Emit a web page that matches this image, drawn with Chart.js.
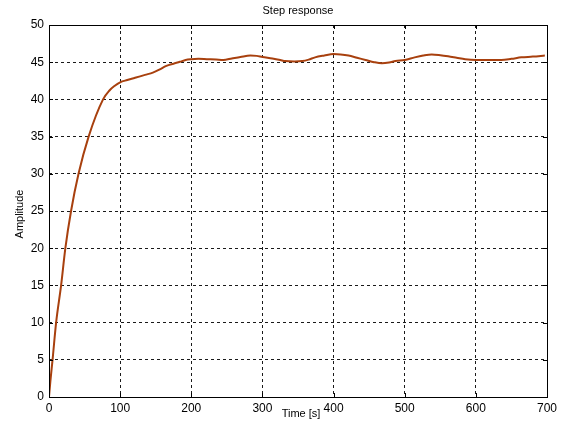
<!DOCTYPE html>
<html>
<head>
<meta charset="utf-8">
<script src="https://cdn.jsdelivr.net/npm/chart.js@4/dist/chart.umd.min.js"></script>
<style>
  html, body { margin: 0; padding: 0; background: #ffffff; }
  #wrap { width: 561px; height: 421px; position: relative; }
</style>
</head>
<body>
<div id="wrap"><canvas id="c" width="561" height="421"></canvas></div>
<script>
// Step response samples: time in seconds, amplitude in output units
const time = [0, 2, 5, 10, 17, 23, 31, 41.5, 55.7, 76, 85, 92, 100, 110, 121, 135, 146, 155,
  165, 175, 184, 192, 200, 210, 222, 235, 245, 257, 269, 283, 292, 300, 314, 325, 332, 345, 356,
  365, 374, 387, 400, 410, 421, 433, 445, 457, 468, 478, 487, 500, 514, 526, 538, 550, 561, 573,
  585, 600, 618, 636, 650, 664, 680, 697];
const amplitude = [0, 2.2, 5, 10, 15, 20, 25, 30, 35, 40, 41.2, 41.8, 42.3, 42.6, 42.9,
  43.3, 43.6, 44.0, 44.5, 44.8, 45.05, 45.3, 45.4, 45.45, 45.4, 45.35, 45.3, 45.5, 45.7, 45.9,
  45.85, 45.7, 45.5, 45.3, 45.15, 45.1, 45.15, 45.35, 45.65, 45.9, 46.1, 46.05, 45.9, 45.6, 45.3,
  45.0, 44.85, 44.95, 45.15, 45.3, 45.65, 45.9, 46.05, 45.95, 45.8, 45.6, 45.4, 45.3, 45.3, 45.3,
  45.45, 45.65, 45.75, 45.9];

// Axis tick values
const xTicks = [0, 100, 200, 300, 400, 500, 600, 700];
const yTicks = [0, 5, 10, 15, 20, 25, 30, 35, 40, 45, 50];

const titleText = 'Step response';
const xLabel = 'Time [s]';
const yLabel = 'Amplitude';

const points = time.map((t, i) => ({ x: t, y: amplitude[i] }));

const FONT = '"Liberation Sans", Arial, sans-serif';

// Solid frame, inward tick marks and text labels around the plot area
const framePlugin = {
  id: 'frame',
  afterDatasetsDraw(chart) {
    const { ctx, chartArea: a, scales: { x, y } } = chart;
    ctx.save();
    ctx.strokeStyle = '#000';
    ctx.lineWidth = 1;
    ctx.setLineDash([]);
    ctx.strokeRect(Math.round(a.left) + 0.5, Math.round(a.top) + 0.5,
      Math.round(a.right - a.left), Math.round(a.bottom - a.top));
    const tl = 4;
    ctx.beginPath();
    xTicks.forEach(v => {
      const px = Math.round(x.getPixelForValue(v)) + 0.5;
      ctx.moveTo(px, a.bottom); ctx.lineTo(px, a.bottom - tl);
      ctx.moveTo(px, a.top); ctx.lineTo(px, a.top + tl);
    });
    yTicks.forEach(v => {
      const py = Math.round(y.getPixelForValue(v)) + 0.5;
      ctx.moveTo(a.left, py); ctx.lineTo(a.left + tl, py);
      ctx.moveTo(a.right, py); ctx.lineTo(a.right - tl, py);
    });
    ctx.stroke();

    ctx.fillStyle = '#000';
    ctx.font = '11px ' + FONT;
    ctx.textAlign = 'center';
    ctx.textBaseline = 'middle';
    ctx.fillText(titleText, (a.left + a.right) / 2, 11);
    ctx.fillText(xLabel, 301, 414);
    ctx.translate(20, 214);
    ctx.rotate(-Math.PI / 2);
    ctx.fillText(yLabel, 0, 0);
    ctx.restore();
  }
};

const gridColor = (edgeMin, edgeMax) => (c) =>
  (c.tick && (c.tick.value === edgeMin || c.tick.value === edgeMax)) ? 'rgba(0,0,0,0)' : '#1a1a1a';

new Chart(document.getElementById('c'), {
  type: 'line',
  data: {
    datasets: [{
      data: points,
      borderColor: '#a8400e',
      borderWidth: 2,
      pointRadius: 0,
      fill: false,
      cubicInterpolationMode: 'monotone'
    }]
  },
  options: {
    responsive: false,
    animation: false,
    devicePixelRatio: 1,
    layout: { padding: { left: 0, top: 25, right: 13, bottom: 0 } },
    plugins: { legend: { display: false }, tooltip: { enabled: false }, title: { display: false } },
    scales: {
      x: {
        type: 'linear',
        min: 0, max: 700,
        afterBuildTicks: (s) => { s.ticks = xTicks.map(v => ({ value: v })); },
        afterFit: (s) => { s.height = 24; },
        grid: { color: gridColor(0, 700), lineWidth: 1, drawTicks: false },
        border: { display: false, dash: [3, 3] },
        ticks: { color: '#000', padding: 4, font: { family: FONT, size: 12 }, maxRotation: 0 }
      },
      y: {
        type: 'linear',
        min: 0, max: 50,
        afterBuildTicks: (s) => { s.ticks = yTicks.map(v => ({ value: v })); },
        afterFit: (s) => { s.width = 49; },
        grid: { color: gridColor(0, 50), lineWidth: 1, drawTicks: false },
        border: { display: false, dash: [3, 3] },
        ticks: { color: '#000', padding: 5, font: { family: FONT, size: 12 } }
      }
    }
  },
  plugins: [framePlugin]
});
</script>
</body>
</html>
